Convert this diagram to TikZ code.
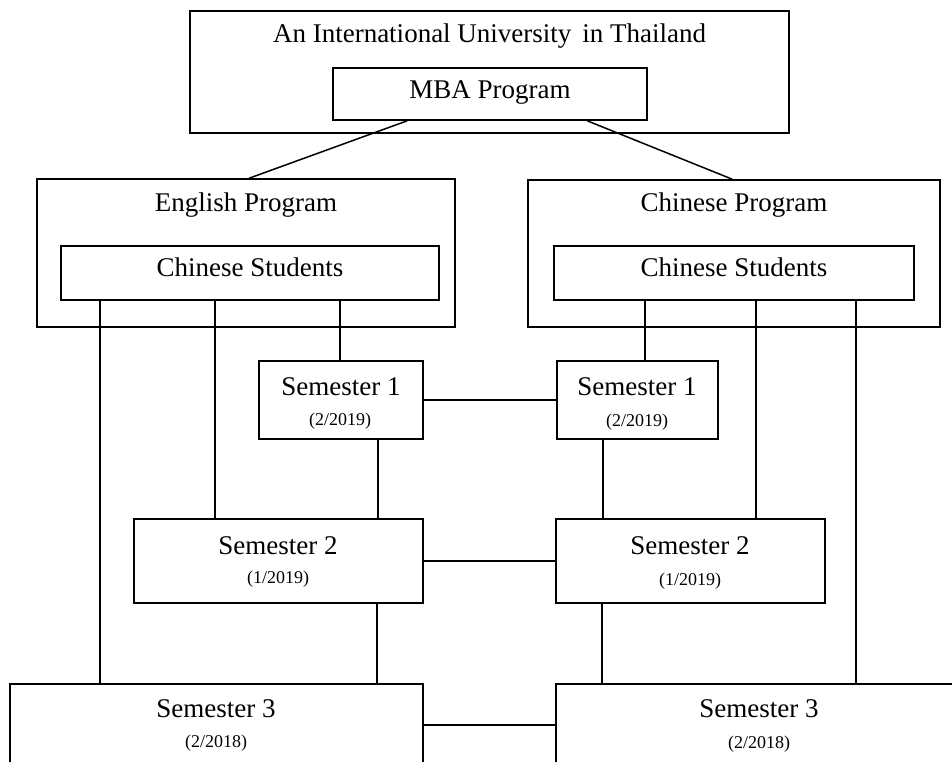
\documentclass[tikz,border=0pt]{standalone}
\usepackage{fontspec}
\setmainfont{Liberation Serif}
\usetikzlibrary{fit}
\newcommand\BigTxt{\fontsize{27}{32}\selectfont}
\newcommand\SmallTxt{\fontsize{18}{22}\selectfont}
\begin{document}
\begin{tikzpicture}[x=1pt,y=-1pt,
  box/.style={draw, line width=1.6pt, inner sep=0pt, rectangle},
  lnk/.style={line width=1.5pt},
  big/.style={font=\BigTxt, anchor=base, inner sep=0pt},
  small/.style={font=\SmallTxt, anchor=base, inner sep=0pt}]
\useasboundingbox (0,0) rectangle (952,762);
\clip (0,0) rectangle (952,762);
% boxes
\node[box, fit={(190,11) (789,133)}] (uni) {};
\node[box, fit={(333,68) (647,120)}] (mba) {};
\node[box, fit={(37,179) (455,327)}] (eng) {};
\node[box, fit={(528,180) (940,327)}] (chn) {};
\node[box, fit={(61,246) (439,300)}] (csL) {};
\node[box, fit={(554,246) (914,300)}] (csR) {};
\node[box, fit={(259,361) (423,439)}] (s1L) {};
\node[box, fit={(557,361) (718,439)}] (s1R) {};
\node[box, fit={(134,519) (423,603)}] (s2L) {};
\node[box, fit={(556,519) (825,603)}] (s2R) {};
\node[box, fit={(10,684) (423,766)}] (s3L) {};
\node[box, fit={(556,684) (962,766)}] (s3R) {};
% texts
\node[big] (tUni) at (489.5,43) {An International University\hspace{0.15em} in Thailand};
\node[big] (tMba) at (490,99) {MBA Program};
\node[big] (tEng) at (246,211) {English Program};
\node[big] (tChn) at (734,211) {Chinese Program};
\node[big] (tcsL) at (250,276) {Chinese Students};
\node[big] (tcsR) at (734,276) {Chinese Students};
\node[big] (ts1L) at (341,395) {Semester 1};
\node[small] (ds1L) at (340,425) {(2/2019)};
\node[big] (ts1R) at (637,395) {Semester 1};
\node[small] (ds1R) at (637,426) {(2/2019)};
\node[big] (ts2L) at (278,554) {Semester 2};
\node[small] (ds2L) at (278,583) {(1/2019)};
\node[big] (ts2R) at (690,554) {Semester 2};
\node[small] (ds2R) at (690,585) {(1/2019)};
\node[big] (ts3L) at (216,717) {Semester 3};
\node[small] (ds3L) at (216,747) {(2/2018)};
\node[big] (ts3R) at (759,717) {Semester 3};
\node[small] (ds3R) at (759,748) {(2/2018)};
% connectors
\draw[lnk] ([xshift=75pt]mba.south west) -- ([xshift=213pt]eng.north west);
\draw[lnk] ([xshift=255pt]mba.south west) -- ([xshift=205pt]chn.north west);
\draw[lnk] ([xshift=40pt]csL.south west) coordinate (a1) -- (a1 |- s3L.north);
\draw[lnk] ([xshift=155pt]csL.south west) coordinate (a2) -- (a2 |- s2L.north);
\draw[lnk] ([xshift=280pt]csL.south west) coordinate (a3) -- (a3 |- s1L.north);
\draw[lnk] ([xshift=120pt]s1L.south west) coordinate (a4) -- (a4 |- s2L.north);
\draw[lnk] ([xshift=244pt]s2L.south west) coordinate (a5) -- (a5 |- s3L.north);
\draw[lnk] ([xshift=92pt]csR.south west) coordinate (b1) -- (b1 |- s1R.north);
\draw[lnk] ([xshift=203pt]csR.south west) coordinate (b2) -- (b2 |- s2R.north);
\draw[lnk] ([xshift=303pt]csR.south west) coordinate (b3) -- (b3 |- s3R.north);
\draw[lnk] ([xshift=47pt]s1R.south west) coordinate (b4) -- (b4 |- s2R.north);
\draw[lnk] ([xshift=47pt]s2R.south west) coordinate (b5) -- (b5 |- s3R.north);
\draw[lnk] (s1L.east) -- (s1R.west);
\draw[lnk] (s2L.east) -- (s2R.west);
\draw[lnk] (s3L.east) -- (s3R.west);
\end{tikzpicture}
\end{document}
